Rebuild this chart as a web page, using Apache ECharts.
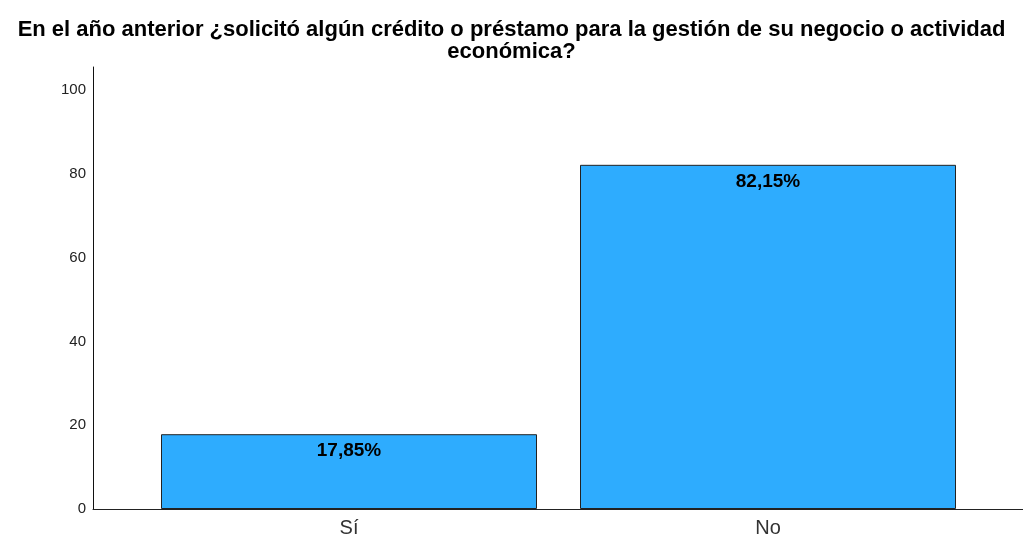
<!DOCTYPE html>
<html>
<head>
<meta charset="utf-8">
<script src="https://cdn.jsdelivr.net/npm/echarts@6/dist/echarts.min.js"></script>
<style>html,body{margin:0;padding:0;background:#fff}#c{width:1023px;height:538px}</style>
</head>
<body>
<div id="c"></div>
<script>
const titleText = 'En el año anterior ¿solicitó algún crédito o préstamo para la gestión de su negocio o actividad\neconómica?';
const categories = ['Sí', 'No'];
const percentValues = [17.85, 82.15];
const yTicks = [0, 20, 40, 60, 80, 100];

const chart = echarts.init(document.getElementById('c'), null, {renderer: 'canvas'});
const FONT = '"Liberation Sans", Arial, sans-serif';
chart.setOption({
  animation: false,
  backgroundColor: '#ffffff',
  title: {
    text: titleText,
    left: 'center',
    top: 14,
    textStyle: {fontFamily: FONT, fontSize: 22, fontWeight: 'bold', color: '#000', lineHeight: 22}
  },
  grid: [
    {left: 139.5, right: 45.5, top: 67, bottom: 29, containLabel: false},
    {left: 93, right: 0, top: 67, bottom: 29, containLabel: false}
  ],
  xAxis: [
    {
      type: 'category', gridIndex: 0, data: categories,
      axisLine: {show: false}, axisTick: {show: false},
      axisLabel: {fontFamily: FONT, fontSize: 20, color: '#333', margin: 9}
    },
    {
      type: 'category', gridIndex: 1, data: [''],
      axisLine: {show: true, lineStyle: {color: '#222', width: 1}},
      axisTick: {show: false}, axisLabel: {show: false}
    }
  ],
  yAxis: [
    {
      type: 'value', gridIndex: 0, min: yTicks[0], max: 105.5, interval: 20, offset: 46.5,
      axisLine: {show: true, lineStyle: {color: '#111', width: 1}},
      axisTick: {show: false},
      splitLine: {show: false},
      axisLabel: {
        fontFamily: FONT, fontSize: 15, color: '#222', margin: 7,
        formatter: v => (yTicks.indexOf(v) >= 0 ? String(v) : '')
      }
    },
    {type: 'value', gridIndex: 1, show: false}
  ],
  series: [{
    type: 'bar',
    xAxisIndex: 0, yAxisIndex: 0,
    data: percentValues,
    barWidth: 376,
    itemStyle: {color: '#2eacfe', borderColor: '#222', borderWidth: 1},
    label: {
      show: true, position: 'insideTop', distance: 7,
      fontFamily: FONT, fontSize: 19, fontWeight: 'bold', color: '#000',
      formatter: p => String(p.value).replace('.', ',') + '%'
    }
  }]
});
</script>
</body>
</html>
